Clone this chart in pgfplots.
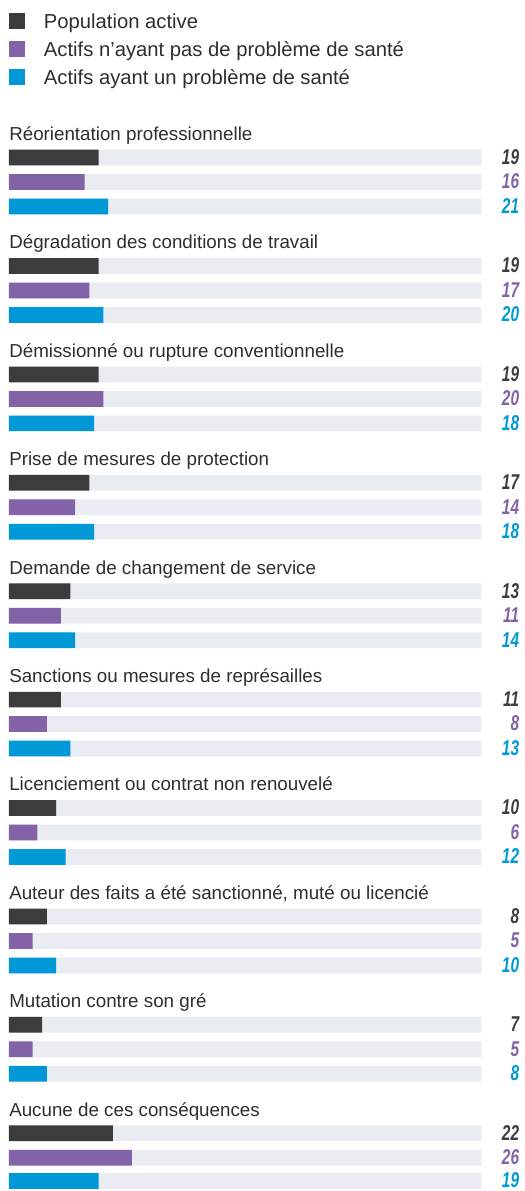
\documentclass[border=0pt]{standalone}
\usepackage{fontspec}
\setmainfont{Liberation Sans}
\newfontfamily\valfont[FakeStretch=0.72]{Liberation Sans}
\usepackage{pgfplots}
\pgfplotsset{compat=1.18}
\usepackage{pgfplotstable}
\definecolor{cdark}{HTML}{3C3C3C}
\definecolor{cpurple}{HTML}{8362A8}
\definecolor{cblue}{HTML}{0098D6}
\definecolor{ctrack}{HTML}{E9ECF1}
\definecolor{ctext}{HTML}{2E2E2E}
\tikzset{grouptitle/.style={anchor=base west, inner sep=0pt, text=ctext, font=\fontsize{14.1}{17}\selectfont}}

% pos = vertical position (px from top), val = percentage
\pgfplotstableread{
pos val
157.8 19
266.3 19
374.9 19
483.4 17
592.0 13
700.5 11
809.0 10
917.6 8
1026.1 7
1134.7 22
}\popactive
\pgfplotstableread{
pos val
182.3 16
290.8 17
399.4 20
507.9 14
616.5 11
725.0 8
833.5 6
942.1 5
1050.6 5
1159.2 26
}\sansprob
\pgfplotstableread{
pos val
206.8 21
315.3 20
423.9 18
532.4 18
641.0 14
749.5 13
858.0 12
966.6 10
1075.1 8
1182.4 19
}\avecprob

\begin{document}
\begin{tikzpicture}
\begin{axis}[
  scale only axis,
  x=3.5475pt, y=0.75pt,
  xmin=-1.903, xmax=109.09,
  ymin=0, ymax=1192.5,
  y dir=reverse,
  hide axis,
  clip=false,
  legend image code/.code={\fill[#1] (0pt,-6pt) rectangle (12pt,6pt);},
  legend cell align=left,
  legend style={at={(axis cs:0,13.3)}, anchor=north west, draw=none, fill=none,
    inner sep=0pt, outer sep=0pt, row sep=9pt,
    font=\fontsize{15.2}{18}\selectfont, text=ctext,
    nodes={inner sep=0pt, text height=10.9pt, text depth=0pt},
    /tikz/every odd column/.append style={column sep=14.25pt}},
]
\path (axis cs:-1.903,0) rectangle (axis cs:109.09,1192.5);
\addlegendimage{fill=cdark, draw=none}
\addlegendimage{fill=cpurple, draw=none}
\addlegendimage{fill=cblue, draw=none}
\legend{Population active, Actifs n'ayant pas de problème de santé, Actifs ayant un problème de santé}

% tracks
\addplot[xbar, bar width=11.8pt, bar shift=0pt, fill=ctrack, draw=none, forget plot] table[x expr=100, y=pos] {\popactive};
\addplot[xbar, bar width=11.8pt, bar shift=0pt, fill=ctrack, draw=none, forget plot] table[x expr=100, y=pos] {\sansprob};
\addplot[xbar, bar width=11.8pt, bar shift=0pt, fill=ctrack, draw=none, forget plot] table[x expr=100, y=pos] {\avecprob};
% bars
\addplot[xbar, bar width=11.8pt, bar shift=0pt, fill=cdark, draw=none, forget plot] table[x=val, y=pos] {\popactive};
\addplot[xbar, bar width=11.8pt, bar shift=0pt, fill=cpurple, draw=none, forget plot] table[x=val, y=pos] {\sansprob};
\addplot[xbar, bar width=11.8pt, bar shift=0pt, fill=cblue, draw=none, forget plot] table[x=val, y=pos] {\avecprob};
% value labels
\addplot[draw=none, mark=none, forget plot, point meta=explicit symbolic,
  nodes near coords={\pgfplotspointmeta},
  nodes near coords style={anchor=east, inner sep=0pt, yshift=0.6pt, text height=11.5pt, text depth=0pt, text=cdark,
    font=\valfont\bfseries\itshape\fontsize{16.1}{18}\selectfont}]
  table[x expr=108.04, y=pos, meta=val] {\popactive};
\addplot[draw=none, mark=none, forget plot, point meta=explicit symbolic,
  nodes near coords={\pgfplotspointmeta},
  nodes near coords style={anchor=east, inner sep=0pt, yshift=0.6pt, text height=11.5pt, text depth=0pt, text=cpurple,
    font=\valfont\bfseries\itshape\fontsize{16.1}{18}\selectfont}]
  table[x expr=108.04, y=pos, meta=val] {\sansprob};
\addplot[draw=none, mark=none, forget plot, point meta=explicit symbolic,
  nodes near coords={\pgfplotspointmeta},
  nodes near coords style={anchor=east, inner sep=0pt, yshift=0.6pt, text height=11.5pt, text depth=0pt, text=cblue,
    font=\valfont\bfseries\itshape\fontsize{16.1}{18}\selectfont}]
  table[x expr=108.04, y=pos, meta=val] {\avecprob};

% group titles
\node[grouptitle] at (axis cs:0,140.7) {Réorientation professionnelle};
\node[grouptitle] at (axis cs:0,249.2) {Dégradation des conditions de travail};
\node[grouptitle] at (axis cs:0,357.8) {Démissionné ou rupture conventionnelle};
\node[grouptitle] at (axis cs:0,466.3) {Prise de mesures de protection};
\node[grouptitle] at (axis cs:0,574.9) {Demande de changement de service};
\node[grouptitle] at (axis cs:0,683.4) {Sanctions ou mesures de représailles};
\node[grouptitle] at (axis cs:0,791.9) {Licenciement ou contrat non renouvelé};
\node[grouptitle] at (axis cs:0,900.5) {Auteur des faits a été sanctionné, muté ou licencié};
\node[grouptitle] at (axis cs:0,1009.0) {Mutation contre son gré};
\node[grouptitle] at (axis cs:0,1117.6) {Aucune de ces conséquences};
\end{axis}
\end{tikzpicture}
\end{document}
